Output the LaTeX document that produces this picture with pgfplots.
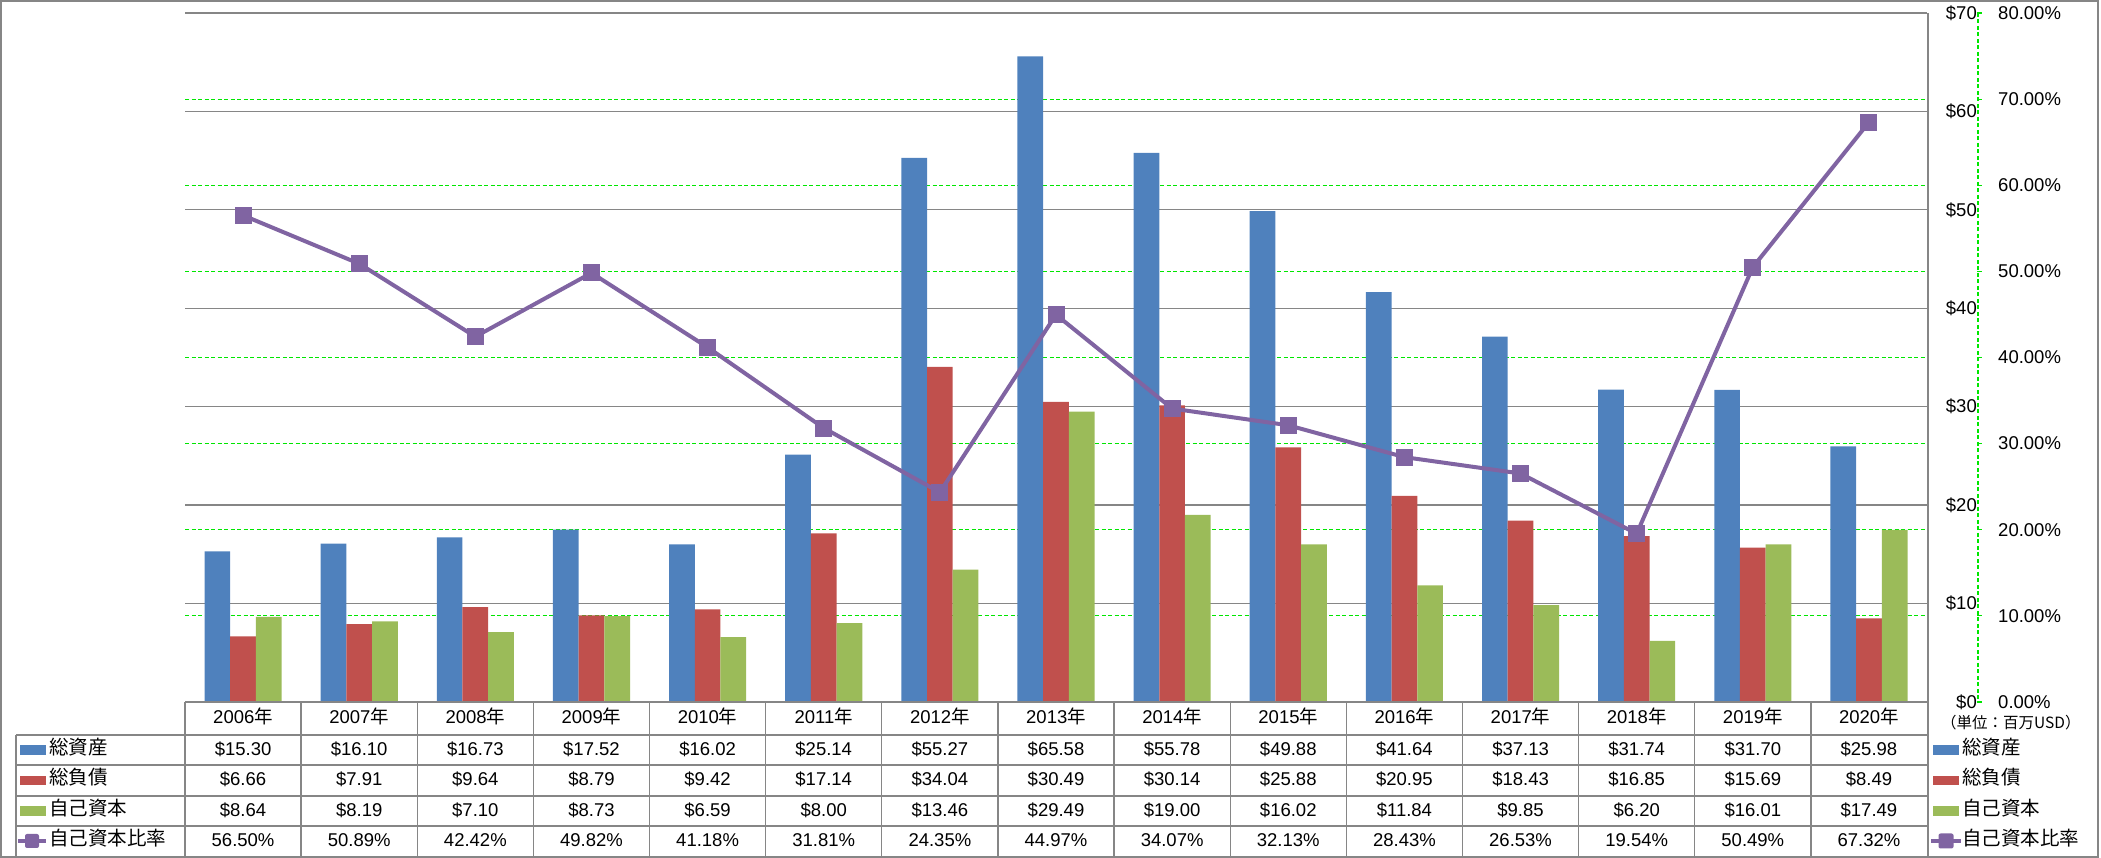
\documentclass[border=0pt]{standalone}
\usepackage{pgfplots}
\pgfplotsset{compat=1.18}
\usepackage{pgfplotstable}
\usepackage{fontspec}
\setmainfont{Liberation Sans}
\newfontfamily\jp{Noto Sans CJK JP}
\definecolor{cA}{HTML}{4F81BD}
\definecolor{cL}{HTML}{C0504D}
\definecolor{cE}{HTML}{9BBB59}
\definecolor{cR}{HTML}{8064A2}
\definecolor{gridgray}{HTML}{868686}
\definecolor{gridgreen}{HTML}{00E600}

\pgfplotstableread{
x year A L E R
0 2006 15.30 6.66 8.64 56.50
1 2007 16.10 7.91 8.19 50.89
2 2008 16.73 9.64 7.10 42.42
3 2009 17.52 8.79 8.73 49.82
4 2010 16.02 9.42 6.59 41.18
5 2011 25.14 17.14 8.00 31.81
6 2012 55.27 34.04 13.46 24.35
7 2013 65.58 30.49 29.49 44.97
8 2014 55.78 30.14 19.00 34.07
9 2015 49.88 25.88 16.02 32.13
10 2016 41.64 20.95 11.84 28.43
11 2017 37.13 18.43 9.85 26.53
12 2018 31.74 16.85 6.20 19.54
13 2019 31.70 15.69 16.01 50.49
14 2020 25.98 8.49 17.49 67.32
}\data

\newcommand\tf{\fontsize{18.5}{21}\selectfont}
\newcommand\jf{\fontsize{19.5}{22}\selectfont\jp}

\begin{document}
\begin{tikzpicture}[x=1pt,y=1pt]
\useasboundingbox (0,0) rectangle (2101,858);
% bars axis
\begin{axis}[
  at={(185pt,156pt)}, anchor=south west,
  width=1742pt, height=689pt, scale only axis,
  xmin=-0.5, xmax=14.5, ymin=0, ymax=70,
  ybar=0pt, bar width=25.7pt,
  axis line style={draw=none}, tick style={draw=none},
  xtick=\empty,
  ytick={0,10,...,70},
  yticklabels={\$0,\$10,\$20,\$30,\$40,\$50,\$60,\$70},
  yticklabel pos=right,
  yticklabel style={anchor=east, inner sep=0pt, xshift=50pt, font=\tf},
  ymajorgrids, grid style={gridgray, line width=1.3pt},
  extra y ticks={8.75,17.5,26.25,35,43.75,52.5,61.25},
  extra y tick labels={},
  extra y tick style={grid=major, grid style={gridgreen, line width=1.2pt, dash pattern=on 4pt off 2.5pt}},
]
\addplot[fill=cA, draw=none] table[x=x,y=A]{\data};
\addplot[fill=cL, draw=none] table[x=x,y=L]{\data};
\addplot[fill=cE, draw=none] table[x=x,y=E]{\data};
\end{axis}
% ratio axis
\begin{axis}[
  at={(185pt,156pt)}, anchor=south west,
  width=1742pt, height=689pt, scale only axis,
  xmin=-0.5, xmax=14.5, ymin=0, ymax=80,
  axis line style={draw=none}, tick style={draw=none},
  xtick=\empty, clip=false,
  ytick={0,10,...,80},
  yticklabels={0.00\%,10.00\%,20.00\%,30.00\%,40.00\%,50.00\%,60.00\%,70.00\%,80.00\%},
  yticklabel pos=right,
  yticklabel style={anchor=west, inner sep=0pt, xshift=71pt, font=\tf},
]
\addplot[cR, line width=4pt, mark=square*, mark size=8pt,
  mark options={solid, fill=cR, draw=cR, line width=1pt, rounded corners=2pt}]
  table[x=x,y=R]{\data};
\end{axis}
% secondary axis line
\draw[gridgreen, line width=1.2pt, dash pattern=on 4pt off 2.5pt] (1978,845) -- (1978,156);
\foreach \k in {0,...,8} \draw[gridgreen, line width=1.2pt] (1977,{156+86.125*\k}) -- (1982,{156+86.125*\k});
% table grid
\begin{scope}[gridgray, line width=1.3pt]
\draw (185,156) -- (1928,156);
\foreach \yy in {123,93,62,32} \draw (16,\yy) -- (1928,\yy);
\foreach \k in {0,...,14} \draw ({185+116.133*\k},156) -- ({185+116.133*\k},1);
\draw (1928,845) -- (1928,1);
\draw (16,123) -- (16,1);
\draw (1,1) rectangle (2098,857);
\end{scope}
% table text
\foreach \i in {0,...,14} {
  \pgfmathsetmacro\cx{243.07+116.133*\i}
  \pgfplotstablegetelem{\i}{year}\of\data
  \node[anchor=base, inner sep=0pt] at (\cx,134) {\tf\pgfplotsretval{\jp 年}};
  \pgfplotstablegetelem{\i}{A}\of\data
  \node[anchor=base, inner sep=0pt] at (\cx,102) {\tf\$\pgfmathprintnumber[fixed,fixed zerofill,precision=2,assume math mode=true]{\pgfplotsretval}};
  \pgfplotstablegetelem{\i}{L}\of\data
  \node[anchor=base, inner sep=0pt] at (\cx,72) {\tf\$\pgfmathprintnumber[fixed,fixed zerofill,precision=2,assume math mode=true]{\pgfplotsretval}};
  \pgfplotstablegetelem{\i}{E}\of\data
  \node[anchor=base, inner sep=0pt] at (\cx,41) {\tf\$\pgfmathprintnumber[fixed,fixed zerofill,precision=2,assume math mode=true]{\pgfplotsretval}};
  \pgfplotstablegetelem{\i}{R}\of\data
  \node[anchor=base, inner sep=0pt] at (\cx,11) {\tf\pgfmathprintnumber[fixed,fixed zerofill,precision=2,assume math mode=true]{\pgfplotsretval}\%};
}
% legend keys (left and right)
\foreach \lx/\tx in {20/49, 1933/1962} {
  \fill[cA] (\lx,103) rectangle ++(26,9.5);
  \fill[cL] (\lx,72.5) rectangle ++(26,9.5);
  \fill[cE] (\lx,42) rectangle ++(26,9.5);
  \node[anchor=base west, inner sep=0pt] at (\tx,103) {\jf 総資産};
  \node[anchor=base west, inner sep=0pt] at (\tx,73) {\jf 総負債};
  \node[anchor=base west, inner sep=0pt] at (\tx,42) {\jf 自己資本};
  \node[anchor=base west, inner sep=0pt] at (\tx,12) {\jf 自己資本比率};
}
\draw[cR, line width=4pt] (18,17) -- (46,17);
\node[fill=cR, rounded corners=2pt, minimum size=14pt, inner sep=0pt] at (32,17) {};
\draw[cR, line width=4pt] (1931,17) -- (1961,17);
\node[fill=cR, rounded corners=2pt, minimum size=15pt, inner sep=0pt] at (1946,17) {};
\node[anchor=west, inner sep=0pt] at (1941,135) {\fontsize{15.5}{17}\selectfont\jp （単位：百万USD）};
\end{tikzpicture}
\end{document}
